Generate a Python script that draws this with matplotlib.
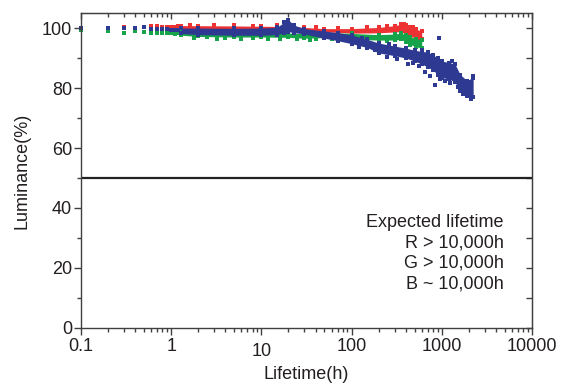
import matplotlib.pyplot as plt
import matplotlib.transforms as mtransforms
from matplotlib.ticker import LogLocator, FixedLocator, NullFormatter

plt.rcParams['font.family'] = ['Liberation Sans', 'DejaVu Sans']

# early discrete measurements
x_early = [0.1, 0.2, 0.3, 0.4, 0.5, 0.6, 0.7, 0.8, 0.9, 1.0, 1.1, 1.2]
red_early = [99.9, 99.8, 100.5, 100.1, 100.3, 100.6, 100.6, 100.4, 100.4, 100.5, 100.3, 100.6]
blue_early = [100.0, 100.0, 100.1, 100.0, 100.2, 99.6, 99.8, 99.7, 99.6, 99.5, 99.3, 99.4]
green_early = [99.2, 99.1, 98.3, 99.0, 98.6, 98.3, 98.5, 98.3, 98.3, 98.2, 98.0, 98.4]

# dense part of each curve: time, lower and upper edge of the band
red_t = [1.3, 2, 5, 10, 20, 30, 50, 100, 200, 300, 350, 400, 450, 520, 600]
red_lo = [99.7, 99.6, 99.5, 99.4, 99.3, 99.2, 98.8, 98.3, 98.4, 98.7, 98.8, 98.0, 97.2, 96.6, 96.3]
red_hi = [100.8, 100.8, 100.7, 100.6, 100.5, 100.2, 99.8, 99.8, 100.2, 100.8, 101.2, 101.0, 100.2, 99.6, 99.0]

green_t = [1.3, 2, 5, 10, 20, 30, 50, 100, 200, 300, 350, 400, 450, 520, 600]
green_lo = [97.6, 97.2, 97.0, 97.0, 96.9, 96.6, 96.8, 96.2, 96.0, 96.0, 96.2, 95.5, 94.5, 93.8, 93.3]
green_hi = [98.8, 98.6, 98.5, 98.4, 98.3, 98.2, 98.6, 98.2, 97.8, 98.0, 98.3, 97.8, 97.0, 96.5, 96.0]

blue_t = [1.3, 2, 5, 10, 15, 18, 20, 23, 30, 50, 70, 100, 150, 200, 300, 400, 500, 600,
          700, 800, 900, 1000, 1200, 1400, 1600, 1900, 2230]
blue_lo = [98.2, 97.8, 97.6, 97.6, 97.8, 98.5, 98.8, 98.5, 98.0, 96.6, 95.8, 94.8, 93.5, 91.7,
           90.8, 90.0, 89.0, 88.0, 87.0, 86.0, 84.5, 83.5, 83.0, 82.0, 79.0, 77.5, 77.0]
blue_hi = [100.0, 100.0, 99.9, 100.0, 100.3, 102.0, 102.7, 101.0, 99.8, 99.0, 98.5, 97.7, 96.2,
           95.0, 94.0, 93.3, 92.6, 92.2, 92.0, 91.0, 90.0, 89.0, 88.5, 88.0, 84.5, 82.5, 83.5]

# scattered points sticking out of the bands
red_extra_t = [1.6, 3.0, 5.0, 8.0, 15, 40, 70, 150, 250, 350, 380, 480, 560]
red_extra_y = [101.0, 100.9, 101.0, 100.8, 100.9, 100.4, 100.0, 100.2, 100.8, 101.4, 101.3, 100.4, 95.9]
green_extra_t = [1.8, 2.5, 3.2, 4.0, 6.0, 8.0, 12, 16, 25, 35, 40, 60, 80, 110, 150, 250]
green_extra_y = [96.6, 96.9, 96.5, 96.8, 96.4, 96.7, 96.5, 96.3, 96.2, 95.9, 96.3, 96.4, 96.0,
                 95.8, 95.7, 95.6]
blue_extra_t = [938, 120, 180, 250, 320, 420, 480, 560, 650, 750, 850, 950, 1100, 1250, 1500,
                1700, 2000, 2100, 130, 260, 600, 1300, 2200]
blue_extra_y = [96.6, 93.8, 92.6, 90.2, 89.8, 88.0, 88.3, 87.2, 85.5, 84.0, 81.0, 83.0, 82.5,
                81.8, 80.5, 78.0, 77.5, 76.5, 96.8, 94.8, 92.8, 89.0, 84.0]

note = "Expected lifetime\nR > 10,000h\nG > 10,000h\nB ~ 10,000h"

red = '#ec3232'
green = '#17a34a'
blue = '#2e3992'
ink = '#231f20'
axis_col = '#404040'

fig = plt.figure(figsize=(5.62, 3.84), dpi=100)
ax = fig.add_axes([0.144, 0.146, 0.8025, 0.82])

for t, lo, hi, et, ey, x0, y0, c in [
        (red_t, red_lo, red_hi, red_extra_t, red_extra_y, x_early, red_early, red),
        (green_t, green_lo, green_hi, green_extra_t, green_extra_y, x_early, green_early, green),
        (blue_t, blue_lo, blue_hi, blue_extra_t, blue_extra_y, x_early, blue_early, blue)]:
    ax.fill_between(t, lo, hi, color=c, linewidth=0)
    ax.scatter(t, lo, s=7, marker='s', color=c, linewidths=0)
    ax.scatter(t, hi, s=7, marker='s', color=c, linewidths=0)
    ax.scatter(et, ey, s=7, marker='s', color=c, linewidths=0)
    ax.scatter(x0, y0, s=8, marker='s', color=c, linewidths=0, clip_on=False)

ax.axhline(50, color='#222222', linewidth=1.6)

ax.set_xscale('log')
ax.set_xlim(0.1, 10000)
ax.set_ylim(0, 105)
ax.set_xticks([0.1, 1, 10, 100, 1000, 10000])
ax.set_xticklabels(['0.1', '1', '10', '100', '1000', '10000'])
ax.xaxis.set_minor_locator(LogLocator(base=10, subs=range(2, 10)))
ax.xaxis.set_minor_formatter(NullFormatter())
ax.set_yticks([0, 20, 40, 60, 80, 100])
ax.yaxis.set_minor_locator(FixedLocator([10, 30, 50, 70, 90]))

for s in ax.spines.values():
    s.set_color(axis_col)
    s.set_linewidth(1.0)

ax.tick_params(axis='both', which='major', direction='out', length=5, width=1,
               color=axis_col, labelsize=13, labelcolor=ink)
ax.tick_params(axis='both', which='minor', direction='out', length=3, width=1,
               color=axis_col)
ax.tick_params(axis='x', which='major', pad=2.5)
ax.tick_params(axis='y', which='major', pad=1.5)

# inward ticks on the top and right frame
top = ax.secondary_xaxis('top')
top.set_xticks([0.1, 1, 10, 100, 1000, 10000])
top.xaxis.set_minor_locator(LogLocator(base=10, subs=range(2, 10)))
top.tick_params(which='both', direction='in', labeltop=False, color=axis_col, width=1)
top.tick_params(which='major', length=4)
top.tick_params(which='minor', length=3)
top.spines['top'].set_color(axis_col)
right = ax.secondary_yaxis('right')
right.set_yticks([0, 20, 40, 60, 80, 100])
right.yaxis.set_minor_locator(FixedLocator([10, 30, 50, 70, 90]))
right.tick_params(which='both', direction='in', labelright=False, color=axis_col,
                  width=1, length=4)
right.spines['right'].set_color(axis_col)

# the "10" label sits a little lower in the original
for lab in ax.get_xticklabels():
    if lab.get_text() == '10':
        lab.set_transform(lab.get_transform() +
                          mtransforms.ScaledTranslation(0, -3 / 72, fig.dpi_scale_trans))

ax.set_xlabel('Lifetime(h)', fontsize=13, labelpad=5, color=ink)
ax.set_ylabel('Luminance(%)', fontsize=13, labelpad=8, color=ink)

ax.text(0.938, 0.362, note, transform=ax.transAxes, ha='right', va='top',
        multialignment='right', fontsize=13, linespacing=1.27, color=ink)

fig.savefig('out.png', dpi=100)
